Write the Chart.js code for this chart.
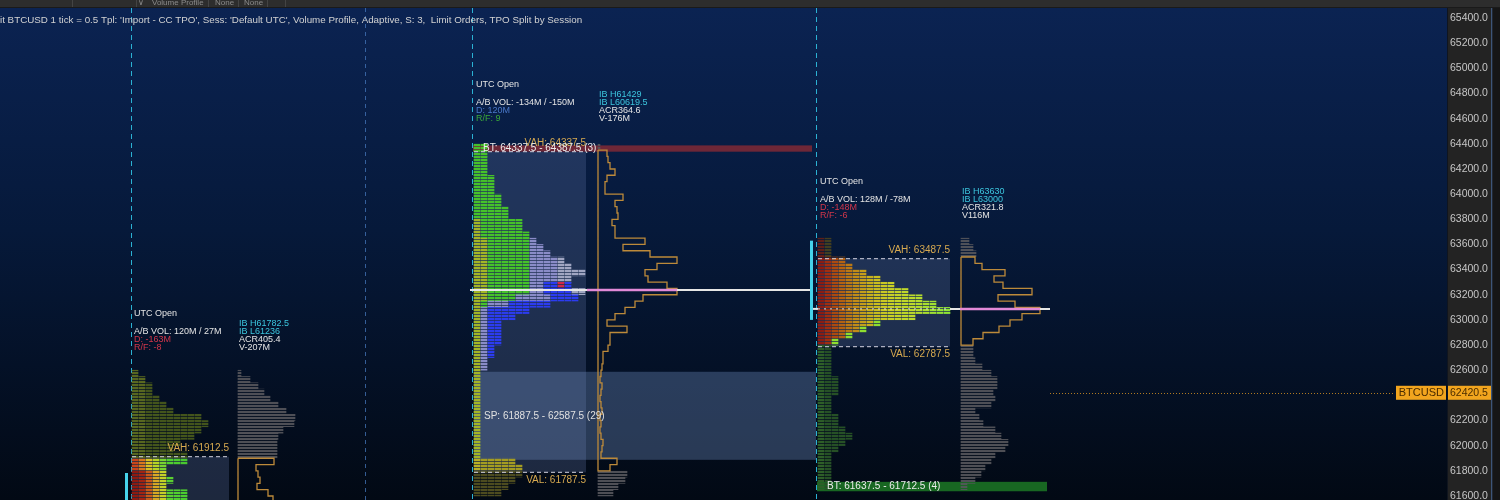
<!DOCTYPE html>
<html><head><meta charset="utf-8">
<script src="https://cdn.jsdelivr.net/npm/chart.js@4.4.1/dist/chart.umd.min.js"></script>
<style>html,body{margin:0;padding:0;background:#050c1c;overflow:hidden}#wrap{width:1500px;height:500px;position:relative}canvas{display:block}</style>
</head><body><div id="wrap"><canvas id="c" width="1500" height="500"></canvas></div>
<script>
// ================= DATA =================
const yTickValues = [61600,61800,62000,62200,62400,62600,62800,63000,63200,63400,63600,63800,64000,64200,64400,64600,64800,65000,65200,65400];
const rowStep = 50;                       // price height of one profile row
const sessionTopRow = [62575, 64375, 63625];   // centre price of first (highest) row
// TPO counts per row (top -> bottom)
const s1Tpo = [1,2,3,3,4,5,6,10,11,10,9,7,6,8,8,5,5,6,5,8,8];
const s2Tpo = [2,2,2,2,2,3,3,3,4,4,5,5,7,7,8,9,10,11,13,14,16,14,14,16,15,11,8,6,4,4,4,4,3,3,2,2,1,1,1,1,1,1,1,1,1,1,1,1,1,1,6,7,7,6,5,4];
const s3Tpo = [2,2,2,4,5,7,9,11,13,15,17,19,14,9,7,5,3,2,2,2,2,2,3,3,3,2,2,2,3,3,4,5,4,3,2,2,2,2,2,2];
// relative volume per row (top -> bottom)
const s1Vol = [3,12,20,26,32,40,48,57,56,45,40,39,39,39,36,18,20,22,19,30,35];
const s2Vol = [2,9,10,12,17,9,7,7,25,17,19,20,14,17,17,47,25,52,79,59,47,50,69,79,45,37,27,17,9,29,12,12,10,5,5,4,3,2,4,3,2,3,4,2,3,2,3,5,4,3,19,12,29,27,20,15];
const s3Vol = [8,12,15,14,21,44,33,42,71,37,54,79,61,49,38,22,12,12,12,14,21,30,36,36,32,34,30,14,18,22,34,40,47,44,34,30,24,20,14,6];
// session statistics
const sessionTitle = ['UTC Open','UTC Open','UTC Open'];
const abVolText = ['A/B VOL: 120M / 27M','A/B VOL: -134M / -150M','A/B VOL: 128M / -78M'];
const deltaText = ['D: -163M','D: 120M','D: -148M'];
const rfText = ['R/F: -8','R/F: 9','R/F: -6'];
const ibHigh = [61782.5, 61429, 63630];
const ibLow = [61236, 60619.5, 63000];
const acrValue = [405.4, 364.6, 321.8];
const volText = ['V-207M','V-176M','V116M'];
const vahValue = [61912.5, 64337.5, 63487.5];
const valValue = [61400, 61787.5, 62787.5];
const pocValue = [null, 63237.5, 63087.5];
// special ranges
const btRanges = [[1, 64337.5, 64387.5, 3], [2, 61637.5, 61712.5, 4]];  // [session, low, high, count]
const spRanges = [[1, 61887.5, 62587.5, 29]];
const lastPrice = 62420.5;
const symbol = 'BTCUSD';
const headerText = "it BTCUSD 1 tick = 0.5 Tpl: 'Import - CC TPO', Sess: 'Default UTC', Volume Profile, Adaptive, S: 3,  Limit Orders, TPO Split by Session";

// ================= LAYOUT / STYLE =================
const AREA = {left:0, top:8, right:1447, bottom:500};
const L = {
  sessionLineX: [131, 472, 816],
  dayLineX: [365],
  tpoX: [132, 474, 818],
  volX: [238, 598, 961],
  vaRight: [229, 586, 950],
  colW: 7, rowPx: 6.2, volPx: 1,
  btRight: [null, 812, 1047],
  spRight: [null, 816, null],
  poc: [null, {x0:470, x1:812, p0:587, p1:677}, {x0:810, x1:1050, p0:960, p1:1040, dotFrom:818, dotTo:950}],
  lastLine: [1050, 1395]
};
const FONT = '"Liberation Sans", Arial, sans-serif';
const C = {
  white:'#e4e4e4', cyan:'#3cc6de', red:'#d2364a', blue:'#4a78c8', green:'#3aa83a', gold:'#d8aa50',
  outline:'#bd8a3a', gray:'rgba(86,86,92,0.9)'
};
const rowsOf = (top, n) => Array.from({length:n}, (_, i) => top - i*rowStep);
const s1Rows = rowsOf(sessionTopRow[0], s1Tpo.length);
const s2Rows = rowsOf(sessionTopRow[1], s2Tpo.length);
const s3Rows = rowsOf(sessionTopRow[2], s3Tpo.length);

// striped fill (each profile row shows as fine print lines)
const mainCtx = document.getElementById('c').getContext('2d');
const patCache = {};
function stripe(color, gapAlpha){
  const ga = gapAlpha == null ? 0.25 : gapAlpha;
  const key = color + '|' + ga;
  if (patCache[key]) return patCache[key];
  const cv = document.createElement('canvas'); cv.width = 2; cv.height = 3;
  const g = cv.getContext('2d'); g.fillStyle = color; g.fillRect(0, 0, 2, 2);
  g.globalAlpha = ga; g.fillRect(0, 2, 2, 1);
  return (patCache[key] = mainCtx.createPattern(cv, 'repeat'));
}

// ---- TPO colours ----
function s1Color(p, c){
  if (p > vahValue[0]) return c < 2 ? 'rgba(96,112,32,0.9)' : 'rgba(74,92,28,0.9)';
  if (p >= 61825) return ['#c8461a','#d8781c','#d8c022','#b6d426','#78d430','#52d030','#4ccc30','#48c830'][Math.min(c,7)];
  return ['#8e1a10','#a22412','#c85a1a','#d8a824','#c4d028','#5ad030','#52d030','#4ccc30'][Math.min(c,7)];
}
const G='#46c22a', YG='#a2b626', LAV='#8a8cc8', BLU='#2c3cf0', LG='#a0a6c2';
function s2Color(p, c){
  if (p < valValue[1]) return 'rgba(84,82,32,0.9)';
  if (p < 61900) return c === 0 ? '#b8b024' : '#a49c22';
  if (p < 62600) return YG;
  if (p >= 63800) return G;
  if (p >= 63200) {
    if (c === 0) return YG;
    if (c === 1) return p < 63650 ? YG : G;
    if (c <= 7) return G;
    if (p <= 63275 && c >= 10 && c <= 13) return (p === 63275 && c === 12) ? '#d0284a' : BLU;
    return c >= 12 ? LG : LAV;
  }
  if (p >= 63150) { if (c <= 1) return YG; if (c <= 5) return G; if (c <= 10) return LAV; return BLU; }
  if (p >= 63100) { if (c === 0) return YG; if (c === 1) return G; if (c <= 4) return LAV; return BLU; }
  if (c === 0) return YG; if (c === 1) return LAV; return BLU;
}
const s3Pal = ['#8c1c12','#a02e10','#ac4a10','#b46212','#ba7814','#c08c18','#c49e1a','#c8b01c','#cabe20','#cac824','#c8d026','#c4d428','#c0d82a','#bcda2c','#b4dc2e','#aade30','#a0e032','#96e234','#8ee436'];
function s3Color(p, c, n){
  if (p > vahValue[2]) return c === 0 ? '#5e1e18' : '#423e20';
  if (p < valValue[2]) return c === 0 ? '#2e5e28' : '#265026';
  if (p < 63000 && c === n - 1) return '#8ede30';
  return s3Pal[Math.min(c, s3Pal.length - 1)];
}

// ---- dataset builders ----
function tpoDataset(rows, counts, s, colorFn){
  const data = [];
  rows.forEach((p, i) => {
    for (let c = 0; c < counts[i]; c++) {
      const x0 = L.tpoX[s] + c * L.colW;
      data.push({y:p, x:[x0, x0 + L.colW - 1], c, n:counts[i]});
    }
  });
  return {type:'bar', data, grouped:false, barThickness:L.rowPx, borderWidth:0, borderSkipped:false,
    backgroundColor: ctx => ctx.raw ? stripe(colorFn(ctx.raw.y, ctx.raw.c, ctx.raw.n)) : '#000'};
}
function volBars(rows, vols, s){
  const data = [];
  rows.forEach((p, i) => {
    if (p > vahValue[s] || p < valValue[s]) data.push({y:p, x:[L.volX[s], L.volX[s] + vols[i] * L.volPx]});
  });
  return {type:'bar', data, grouped:false, barThickness:L.rowPx, borderWidth:0, backgroundColor:stripe(C.gray, 0.1)};
}
function volOutline(rows, vols, s){
  const sel = [];
  rows.forEach((p, i) => { if (p <= vahValue[s] && p >= valValue[s]) sel.push({p, v:vols[i]}); });
  const h = rowStep / 2, b = L.volX[s];
  const pts = [{x:b, y:sel[0].p + h}];
  sel.forEach(r => { pts.push({x:b + r.v * L.volPx, y:r.p + h}); pts.push({x:b + r.v * L.volPx, y:r.p - h}); });
  pts.push({x:b, y:sel[sel.length - 1].p - h});
  pts.push({x:b, y:sel[0].p + h});
  return {type:'line', data:pts, borderColor:C.outline, borderWidth:1.3, pointRadius:0, pointHoverRadius:0, tension:0, fill:false};
}

// ---- drawing helpers ----
function txt(ctx, s, x, y, color, size, align){
  ctx.font = size + 'px ' + FONT; ctx.fillStyle = color; ctx.textAlign = align || 'left'; ctx.textBaseline = 'middle';
  ctx.fillText(s, x, y);
}
function hline(ctx, x0, x1, y, color, w, dash){
  ctx.save(); ctx.strokeStyle = color; ctx.lineWidth = w; ctx.setLineDash(dash || []);
  ctx.beginPath(); ctx.moveTo(x0, y); ctx.lineTo(x1, y); ctx.stroke(); ctx.restore();
}

const decor = {
  id:'decor',
  afterLayout(chart){
    // pin the plot area: full height under the toolbar, price axis panel on the right
    const a = chart.chartArea;
    Object.assign(a, {left:AREA.left, top:AREA.top, right:AREA.right, bottom:AREA.bottom,
      width:AREA.right - AREA.left, height:AREA.bottom - AREA.top});
    const {x, y} = chart.scales;
    Object.assign(x, {left:a.left, right:a.right, width:a.width, top:a.bottom, bottom:a.bottom, height:0});
    x.configure();
    Object.assign(y, {left:a.right, right:1500, width:1500 - a.right, top:a.top, bottom:a.bottom, height:a.height});
    y.configure();
  },
  beforeDraw(chart){
    const {ctx, chartArea:a} = chart;
    ctx.save();
    const g = ctx.createLinearGradient(0, a.top, 0, a.bottom);
    g.addColorStop(0, '#0b2352'); g.addColorStop(0.45, '#06193a'); g.addColorStop(1, '#020914');
    ctx.fillStyle = g; ctx.fillRect(0, 0, a.right, 500);
    // price axis panel
    ctx.fillStyle = '#232323'; ctx.fillRect(a.right, 0, 1500 - a.right, 500);
    ctx.fillStyle = '#3d5578'; ctx.fillRect(1491, 0, 1.5, 500);
    ctx.fillStyle = '#161616'; ctx.fillRect(1492.5, 0, 8, 500);
    ctx.fillStyle = '#10151f'; ctx.fillRect(a.right, 0, 1, 500);
    // toolbar strip
    ctx.fillStyle = '#2d2d2d'; ctx.fillRect(0, 0, 1500, a.top);
    ctx.fillStyle = '#1a1a1a'; ctx.fillRect(0, a.top - 1, 1500, 1);
    ctx.fillStyle = '#444'; [72, 136, 208, 238, 267, 285].forEach(x => ctx.fillRect(x, 0, 1, a.top - 1));
    txt(ctx, 'Volume Profile', 152, 3, '#8c8c8c', 8); txt(ctx, 'None', 215, 3, '#8c8c8c', 8); txt(ctx, 'None', 244, 3, '#8c8c8c', 8);
    txt(ctx, '∨', 138, 3, '#8c8c8c', 8);
    ctx.restore();
  },
  beforeDatasetsDraw(chart){
    const {ctx, chartArea:a, scales:{x, y}} = chart;
    ctx.save();
    ctx.beginPath(); ctx.rect(a.left, a.top, a.right - a.left, a.bottom - a.top); ctx.clip();
    // value areas
    for (let s = 0; s < 3; s++) {
      const top = y.getPixelForValue(vahValue[s]), bot = y.getPixelForValue(valValue[s]);
      ctx.fillStyle = 'rgba(92,112,160,0.30)';
      ctx.fillRect(x.getPixelForValue(L.tpoX[s]), top, x.getPixelForValue(L.vaRight[s]) - x.getPixelForValue(L.tpoX[s]), bot - top);
    }
    // single-print ranges
    spRanges.forEach(([s, lo, hi]) => {
      const t = y.getPixelForValue(hi), b = y.getPixelForValue(lo);
      ctx.fillStyle = 'rgba(112,140,190,0.36)';
      ctx.fillRect(x.getPixelForValue(L.tpoX[s]), t, x.getPixelForValue(L.spRight[s]) - x.getPixelForValue(L.tpoX[s]), b - t);
    });
    // buying/selling tails
    btRanges.forEach(([s, lo, hi]) => {
      const t = y.getPixelForValue(hi), b = y.getPixelForValue(lo);
      ctx.fillStyle = s === 1 ? 'rgba(140,42,52,0.78)' : 'rgba(28,120,36,0.85)';
      ctx.fillRect(x.getPixelForValue(L.tpoX[s] - 1), t, x.getPixelForValue(L.btRight[s]) - x.getPixelForValue(L.tpoX[s] - 1), b - t);
    });
    // session separators
    ctx.lineWidth = 1;
    ctx.setLineDash([5, 4]); ctx.strokeStyle = '#2bb2d4';
    L.sessionLineX.forEach(v => { const px = Math.round(x.getPixelForValue(v)) + 0.5; ctx.beginPath(); ctx.moveTo(px, a.top); ctx.lineTo(px, a.bottom); ctx.stroke(); });
    ctx.setLineDash([4, 4]); ctx.strokeStyle = 'rgba(70,120,190,0.75)';
    L.dayLineX.forEach(v => { const px = Math.round(x.getPixelForValue(v)) + 0.5; ctx.beginPath(); ctx.moveTo(px, a.top); ctx.lineTo(px, a.bottom); ctx.stroke(); });
    ctx.restore();
  },
  afterDatasetsDraw(chart){
    const {ctx, chartArea:a, scales:{x, y}} = chart;
    ctx.save();
    ctx.beginPath(); ctx.rect(a.left, a.top, a.right - a.left, a.bottom - a.top); ctx.clip();
    const X = v => x.getPixelForValue(v), Y = v => y.getPixelForValue(v);
    // POC lines
    for (let s = 0; s < 3; s++) {
      const pc = L.poc[s]; if (!pc || pocValue[s] == null) continue;
      const py = Y(pocValue[s]);
      if (pc.dotFrom) {
        hline(ctx, X(pc.dotFrom), X(pc.dotTo), py, 'rgba(235,235,235,0.75)', 1.2, [2, 4]);
        hline(ctx, X(pc.dotTo), X(pc.x1), py, '#e6e6e6', 2);
        hline(ctx, X(pc.x0), X(pc.dotFrom), py, '#e6e6e6', 2);
      } else hline(ctx, X(pc.x0), X(pc.x1), py, '#e6e6e6', 2);
      hline(ctx, X(pc.p0), X(pc.p1), py, '#e28ad8', 2.5);
    }
    // VAH / VAL
    for (let s = 0; s < 3; s++) {
      const x0 = X(L.tpoX[s]), x1 = X(L.vaRight[s]);
      const th = Y(vahValue[s]), tl = Y(valValue[s]);
      hline(ctx, x0, x1, th, 'rgba(200,200,215,0.85)', 1.2, [4, 3]);
      hline(ctx, x0, x1, tl, 'rgba(200,200,215,0.85)', 1.2, [4, 3]);
      txt(ctx, 'VAH: ' + vahValue[s].toFixed(1), x1, th - 8, C.gold, 10, 'right');
      txt(ctx, 'VAL: ' + valValue[s].toFixed(1), x1, tl + 8, C.gold, 10, 'right');
    }
    // range labels
    btRanges.forEach(([s, lo, hi, n]) => txt(ctx, 'BT: ' + lo.toFixed(1) + ' - ' + hi.toFixed(1) + ' (' + n + ')', X(L.tpoX[s] + 9), (Y(lo) + Y(hi)) / 2, '#ececec', 10));
    spRanges.forEach(([s, lo, hi, n]) => txt(ctx, 'SP: ' + lo.toFixed(1) + ' - ' + hi.toFixed(1) + ' (' + n + ')', X(L.tpoX[s] + 10), (Y(lo) + Y(hi)) / 2, '#e0e0e0', 10));
    // initial balance bars
    for (let s = 0; s < 3; s++) {
      const px = X(L.sessionLineX[s] - 4.5);
      ctx.strokeStyle = '#46d2ea'; ctx.lineWidth = 3; ctx.setLineDash([]);
      ctx.beginPath(); ctx.moveTo(px, Y(ibHigh[s])); ctx.lineTo(px, Y(ibLow[s])); ctx.stroke();
    }
    ctx.restore();
    // session header texts (anchored above each session high)
    ctx.save();
    for (let s = 0; s < 3; s++) {
      const hy = Y(sessionTopRow[s] + rowStep / 2), lx = X(L.tpoX[s] + 2), rx = X(L.volX[s] + 1);
      const off = s === 1 ? -2 : 0;
      txt(ctx, sessionTitle[s], lx, hy - 57 + off, C.white, 9);
      txt(ctx, abVolText[s], lx, hy - 39 + off, C.white, 9);
      txt(ctx, deltaText[s], lx, hy - 31 + off, s === 1 ? C.blue : C.red, 9);
      txt(ctx, rfText[s], lx, hy - 23 + off, s === 1 ? C.green : C.red, 9);
      txt(ctx, 'IB H' + ibHigh[s], rx, hy - 47 + off, C.cyan, 9);
      txt(ctx, 'IB L' + ibLow[s], rx, hy - 39 + off, C.cyan, 9);
      txt(ctx, 'ACR' + acrValue[s], rx, hy - 31 + off, C.white, 9);
      txt(ctx, volText[s], rx, hy - 23 + off, C.white, 9);
    }
    // header
    txt(ctx, headerText, 0, 20, '#d2d2d2', 9.8);
    // last price line
    const ly = Math.round(Y(lastPrice)) + 0.5;
    hline(ctx, X(L.lastLine[0]), X(L.lastLine[1]), ly, '#b07a22', 1, [1, 2]);
    ctx.restore();
  },
  afterDraw(chart){
    const {ctx, chartArea:a, scales:{x, y}} = chart;
    const ly = y.getPixelForValue(lastPrice);
    ctx.save();
    ctx.fillStyle = '#f2a51e';
    ctx.fillRect(x.getPixelForValue(L.lastLine[1]) + 1, ly - 7, a.right - x.getPixelForValue(L.lastLine[1]) - 2, 14);
    ctx.fillRect(a.right + 1, ly - 7, 43, 14);
    txt(ctx, symbol, a.right - 3, ly + 0.5, '#4a2c00', 11, 'right');
    txt(ctx, lastPrice.toFixed(1), a.right + 3, ly + 0.5, '#4a2c00', 10.5, 'left');
    ctx.restore();
  }
};

const datasets = [
  tpoDataset(s1Rows, s1Tpo, 0, s1Color),
  tpoDataset(s2Rows, s2Tpo, 1, s2Color),
  tpoDataset(s3Rows, s3Tpo, 2, s3Color),
  volOutline(s1Rows, s1Vol, 0), volOutline(s2Rows, s2Vol, 1), volOutline(s3Rows, s3Vol, 2),
  volBars(s1Rows, s1Vol, 0), volBars(s2Rows, s2Vol, 1), volBars(s3Rows, s3Vol, 2)
];

new Chart(document.getElementById('c'), {
  type:'bar',
  data:{datasets},
  plugins:[decor],
  options:{
    indexAxis:'y', responsive:false, animation:false, devicePixelRatio:1, events:[],
    layout:{autoPadding:false, padding:{top:8, left:0, right:0, bottom:0}},
    plugins:{legend:{display:false}, tooltip:{enabled:false}},
    scales:{
      x:{type:'linear', min:0, max:1447, display:false, offset:false},
      y:{type:'linear', position:'right', min:61568, max:65480, offset:false,
        grid:{display:false, drawTicks:false}, border:{display:false},
        ticks:{color:'#c6c6c6', font:{size:10.5, family:FONT}, padding:3, autoSkip:false, callback:v => Number(v).toFixed(1)},
        afterBuildTicks: ax => { ax.ticks = yTickValues.map(v => ({value:v})); },
        afterFit: ax => { ax.width = 53; ax.paddingTop = 0; ax.paddingBottom = 0; }
      }
    }
  }
});
</script>
</body></html>
